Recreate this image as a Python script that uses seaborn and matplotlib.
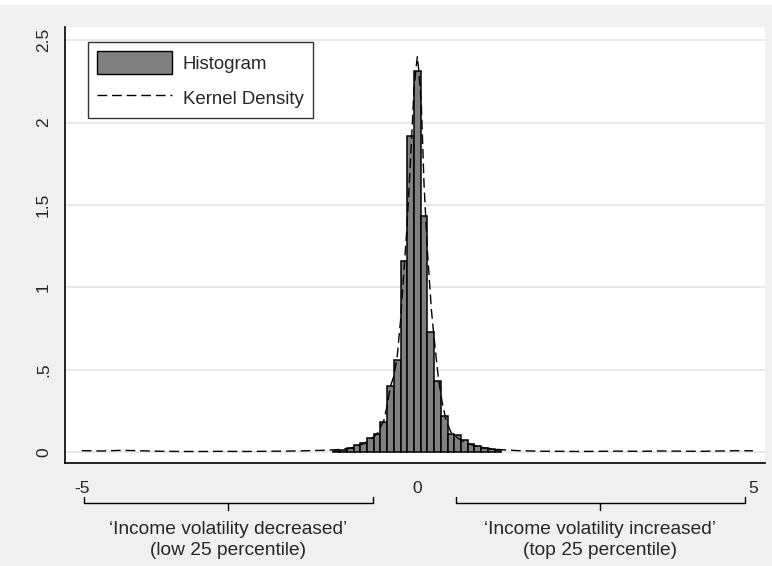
import matplotlib
matplotlib.use("Agg")
import matplotlib.pyplot as plt
import matplotlib.patches as mpatches
import matplotlib.lines as mlines
from matplotlib.transforms import blended_transform_factory
import pandas as pd
import seaborn as sns

sns.set_style("white")
plt.rcParams['font.family'] = ['Liberation Sans', 'DejaVu Sans']

# histogram bins (centres, width 0.1) and their density heights
bin_centers = [-1.2, -1.1, -1.0, -0.9, -0.8, -0.7, -0.6, -0.5, -0.4, -0.3, -0.2, -0.1,
               0.0, 0.1, 0.2, 0.3, 0.4, 0.5, 0.6, 0.7, 0.8, 0.9, 1.0, 1.1, 1.2]
bin_heights = [0.006, 0.012, 0.022, 0.04, 0.056, 0.085, 0.11, 0.18, 0.40, 0.56, 1.16, 1.92,
               2.31, 1.43, 0.73, 0.43, 0.22, 0.11, 0.10, 0.07, 0.05, 0.035, 0.022, 0.015, 0.01]

# kernel density curve
kde_x = [-5.0, -4.7, -4.4, -4.1, -3.8, -3.5, -3.2, -2.9, -2.6, -2.3, -2.0, -1.7, -1.4,
         -1.2, -1.0, -0.9, -0.8, -0.7, -0.6, -0.5, -0.45, -0.4, -0.35, -0.3, -0.25, -0.2,
         -0.16, -0.12, -0.08, -0.05, -0.02, 0.0, 0.02, 0.06, 0.10, 0.15, 0.21, 0.26, 0.31,
         0.37, 0.43, 0.5, 0.6, 0.7, 0.8, 0.9, 1.0, 1.2, 1.5, 1.8, 2.1, 2.4, 2.7, 3.0,
         3.3, 3.6, 3.9, 4.2, 4.5, 4.8, 5.0]
kde_y = [0.008, 0.006, 0.010, 0.007, 0.004, 0.003, 0.003, 0.004, 0.003, 0.004, 0.005, 0.007, 0.010,
         0.014, 0.022, 0.035, 0.05, 0.075, 0.11, 0.19, 0.28, 0.40, 0.46, 0.58, 0.80, 1.10,
         1.33, 1.63, 1.95, 2.20, 2.33, 2.40, 2.32, 2.10, 1.62, 1.22, 0.86, 0.65, 0.46,
         0.30, 0.19, 0.12, 0.085, 0.06, 0.045, 0.035, 0.025, 0.015, 0.008, 0.005, 0.004, 0.003, 0.004, 0.005,
         0.004, 0.006, 0.005, 0.004, 0.006, 0.008, 0.007]

y_ticks = [0, 0.5, 1, 1.5, 2, 2.5]
y_tick_labels = ["0", ".5", "1", "1.5", "2", "2.5"]
x_ticks = [-5, 0, 5]
x_tick_labels = ["-5", "0", "5"]

brackets = [(-4.97, -0.66, "\u2018Income volatility decreased\u2019\n(low 25 percentile)"),
            (0.57, 4.88, "\u2018Income volatility increased\u2019\n(top 25 percentile)")]

bg = "#f0f0f0"
bar_color = "#808080"

hist_df = pd.DataFrame({"x": bin_centers, "w": bin_heights})

fig = plt.figure(figsize=(7.72, 5.66), dpi=100, facecolor=bg)
ax = fig.add_axes([65 / 772, 1 - 463 / 566, 700 / 772, 436 / 566])
ax.set_facecolor("white")

# white strip at the very top (cut-off title area)
fig.patches.append(mpatches.Rectangle((0, 1 - 5 / 566), 1, 5 / 566, transform=fig.transFigure,
                                      facecolor="white", edgecolor="none", zorder=0))

sns.histplot(data=hist_df, x="x", weights="w", binwidth=0.1, binrange=(-1.25, 1.25), stat="count",
             color=bar_color, alpha=1, edgecolor="black", linewidth=1.1, ax=ax, zorder=3)
sns.lineplot(x=kde_x, y=kde_y, ax=ax, color="black", linewidth=1.0, zorder=4)
ax.lines[-1].set_linestyle((0, (7, 3.5)))

ax.set_xlim(-5.25, 5.18)
ax.set_ylim(-0.067, 2.58)
ax.set_yticks(y_ticks)
ax.set_yticklabels(y_tick_labels, rotation=90, va="center", fontsize=12.5)
ax.set_xticks(x_ticks)
ax.set_xticklabels(x_tick_labels, fontsize=12.5)
ax.tick_params(axis="both", direction="out", length=6, width=1.0, color="black", pad=4)
ax.tick_params(axis="x", pad=7)
ax.set_xlabel("")
ax.set_ylabel("")
ax.yaxis.grid(True, color="#e4e4e4", linewidth=1.2, zorder=0)
ax.set_axisbelow(True)
for s in ["top", "right"]:
    ax.spines[s].set_visible(False)
for s in ["left", "bottom"]:
    ax.spines[s].set_color("black")
    ax.spines[s].set_linewidth(1.2)

# legend
h_hist = mpatches.Patch(facecolor=bar_color, edgecolor="black", linewidth=1.0, label="Histogram")
h_kde = mlines.Line2D([], [], color="black", linewidth=1.0, linestyle=(0, (7, 3.5)), label="Kernel Density")
leg = ax.legend(handles=[h_hist, h_kde], loc="upper left", bbox_to_anchor=(23 / 700, 1 - 15 / 436),
                frameon=True, fancybox=False, fontsize=13.4, handlelength=4.0, handleheight=1.5,
                borderpad=0.5, labelspacing=0.65, handletextpad=0.6, borderaxespad=0)
leg.get_frame().set_edgecolor("black")
leg.get_frame().set_linewidth(1.0)

# brackets under the x axis
tr = blended_transform_factory(ax.transData, fig.transFigure)
y_line = 1 - 503 / 566
y_up = 1 - 497 / 566
y_down = 1 - 510 / 566
for x0, x1, label in brackets:
    xm = (x0 + x1) / 2
    ax.plot([x0, x0, x1, x1], [y_up, y_line, y_line, y_up], transform=tr, color="black",
            linewidth=1.0, clip_on=False)
    ax.plot([xm, xm], [y_line, y_down], transform=tr, color="black", linewidth=1.0, clip_on=False)
    ax.text(xm, 1 - 540 / 566, label, transform=tr, ha="center", va="center", fontsize=13.8,
            linespacing=1.25, family=["Liberation Sans Narrow", "Liberation Sans", "DejaVu Sans"])

fig.savefig("out.png", dpi=100, facecolor=bg)
